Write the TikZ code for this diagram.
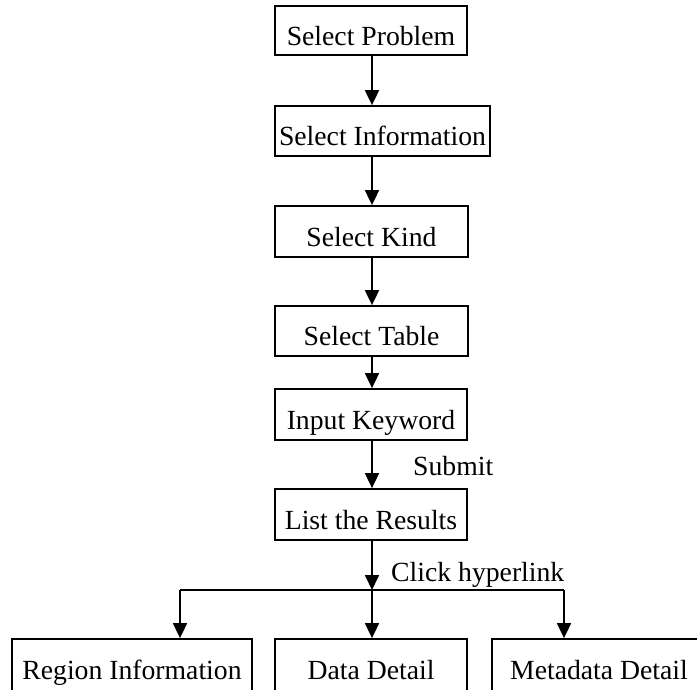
\documentclass[tikz,border=0pt]{standalone}
\usepackage{fontspec}
\setmainfont{Liberation Serif}
\usetikzlibrary{arrows.meta}
\begin{document}
\begin{tikzpicture}[x=1pt,y=-1pt,
  every node/.style={font=\fontsize{27.7}{33}\selectfont},
  stepbox/.style={draw,line width=1.8pt,inner sep=0pt,minimum height=50pt,
    text height=29pt,text depth=0pt,align=center},
  arr/.style={line width=1.8pt,-{Triangle[length=15pt,width=14pt]}},
  lbl/.style={inner sep=0pt,anchor=base west}]
\useasboundingbox (0,0) rectangle (697,689);
\clip (0,0) rectangle (697,689);
% main chain
\node[stepbox,minimum width=192pt,minimum height=49pt] (P)  at (371,30.5)  {Select Problem};
\node[stepbox,minimum width=215pt] (I)  at (382.5,131) {Select Information};
\node[stepbox,minimum width=193pt,minimum height=51pt] (K)  at (371.5,231.5) {Select Kind};
\node[stepbox,minimum width=193pt] (T)  at (371.5,331)  {Select Table};
\node[stepbox,minimum width=192pt,minimum height=51pt] (Kw) at (371,414.5) {Input Keyword};
\node[stepbox,minimum width=192pt,minimum height=51pt] (L)  at (371,514.5) {List the Results};
% result pages
\node[stepbox,minimum width=240pt,minimum height=52pt] (R) at (132,665) {Region Information};
\node[stepbox,minimum width=192pt,minimum height=52pt] (D) at (371,665) {Data Detail};
\node[stepbox,minimum width=214pt,minimum height=52pt] (M) at (599,665) {Metadata Detail};
% connectors
\coordinate (ax) at (372,0);
\draw[arr] (ax |- P.south) -- (ax |- I.north);
\draw[arr] (ax |- I.south) -- (ax |- K.north);
\draw[arr] (ax |- K.south) -- (ax |- T.north);
\draw[arr] (ax |- T.south) -- (ax |- Kw.north);
\draw[arr] (ax |- Kw.south) -- (ax |- L.north);
\coordinate (bm) at (372,590);
\coordinate (bl) at (180,590);
\coordinate (br) at (564,590);
\draw[arr] (ax |- L.south) -- (bm);
\draw[line width=1.8pt] (bl) -- (br);
\draw[arr] (bl) -- (bl |- R.north);
\draw[arr] (bm) -- (bm |- D.north);
\draw[arr] (br) -- (br |- M.north);
% labels
\node[lbl] (sub) at (413,475) {Submit};
\node[lbl] (clk) at (391,581.5) {Click hyperlink};
\end{tikzpicture}
\end{document}
